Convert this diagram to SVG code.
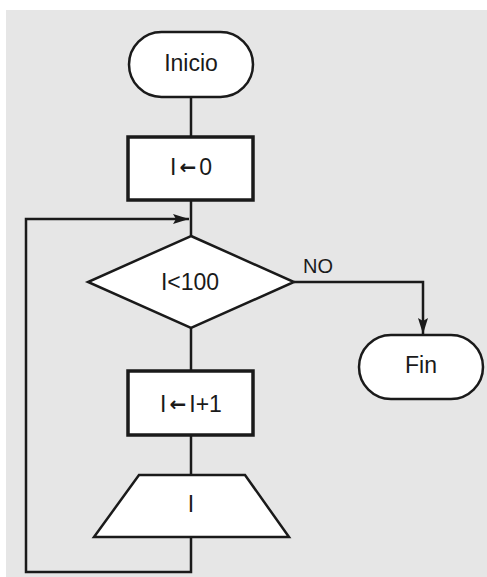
<svg xmlns="http://www.w3.org/2000/svg" width="487" height="577" viewBox="0 0 487 577">
  <style>
    .shape { fill: #ffffff; stroke: #1a1a1a; stroke-width: 2.5; }
    .box { fill: #ffffff; stroke: #1a1a1a; stroke-width: 3.5; }
    .line { fill: none; stroke: #1a1a1a; stroke-width: 2.5; }
    .label { font-family: "Liberation Sans", Arial, sans-serif; font-size: 23px; fill: #1a1a1a; text-anchor: middle; dominant-baseline: central; }
    .assign { font-family: "DejaVu Sans", sans-serif; font-weight: bold; font-size: 20px; }
  </style>
  <defs>
    <marker id="arrow" viewBox="0 0 16 10" refX="16" refY="5" markerWidth="16" markerHeight="10" markerUnits="userSpaceOnUse" orient="auto">
      <path d="M0,0 L16,5 L0,10 L3,5 Z" fill="#1a1a1a"/>
    </marker>
  </defs>

  <!-- page background -->
  <rect x="6" y="10" width="481" height="567" fill="#e6e6e6"/>

  <!-- connectors -->
  <g id="connectors">
    <line class="line" x1="191" y1="97" x2="191" y2="137"/>
    <line class="line" x1="191" y1="200" x2="191" y2="236"/>
    <line class="line" x1="191" y1="328" x2="191" y2="371"/>
    <line class="line" x1="191" y1="435" x2="191" y2="475"/>
    <!-- loop back to the condition -->
    <polyline class="line" points="191,537 191,572 26,572 26,219 189,219" marker-end="url(#arrow)"/>
    <!-- exit branch -->
    <polyline class="line" points="294,282 423,282 423,334" marker-end="url(#arrow)"/>
    <text class="label" x="318" y="266" style="font-size:20px">NO</text>
  </g>

  <g id="inicio">
    <rect class="shape" x="129" y="32" width="124" height="65" rx="32.5"/>
    <text class="label" x="191" y="63">Inicio</text>
  </g>

  <g id="init">
    <rect class="box" x="128" y="137" width="125" height="63"/>
    <text class="label" x="191" y="167">I<tspan class="assign" dx="3">←</tspan><tspan dx="3">0</tspan></text>
  </g>

  <g id="condition">
    <polygon class="shape" points="191,236 294,282 191,328 88,282"/>
    <text class="label" x="190" y="282">I&lt;100</text>
  </g>

  <g id="fin">
    <rect class="shape" x="359" y="335" width="124" height="64" rx="32"/>
    <text class="label" x="421" y="365">Fin</text>
  </g>

  <g id="increment">
    <rect class="box" x="128" y="371" width="125" height="64"/>
    <text class="label" x="191" y="404">I<tspan class="assign" dx="3">←</tspan><tspan dx="3">I+1</tspan></text>
  </g>

  <g id="output">
    <polygon class="shape" points="139,475 245,475 289,537 94,537"/>
    <text class="label" x="191" y="504">I</text>
  </g>
</svg>
